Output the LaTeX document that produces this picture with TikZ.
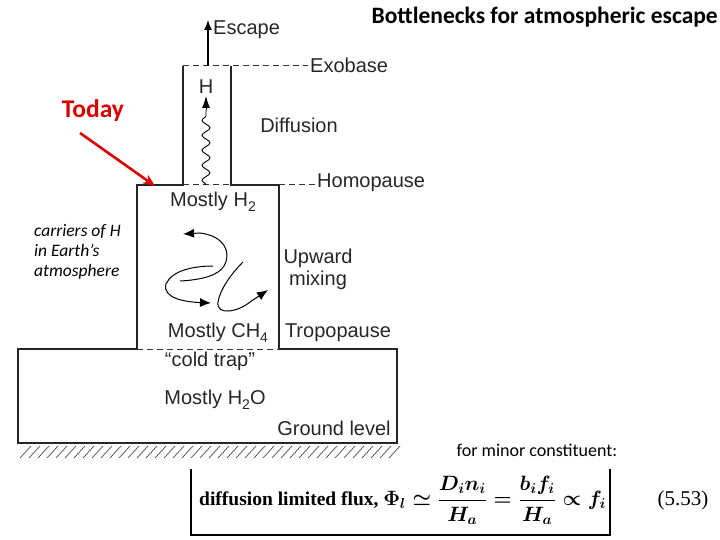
\documentclass[tikz,border=0pt]{standalone}
\usepackage{fontspec}
\setmainfont{Liberation Sans}
\newfontfamily\carlitofont{Carlito}
\newfontfamily\tmsfont{Liberation Serif}
\usetikzlibrary{arrows.meta,decorations.pathmorphing}
\newcommand\mysub[1]{\raisebox{-0.45ex}{\fontsize{14}{14}\selectfont #1}}
\newcommand\myeqtext{\mbox{\mathversion{bold}diffusion limited flux, $\Phi_l \simeq \displaystyle\frac{D_in_i}{H_a}=\frac{b_if_i}{H_a}\propto f_i$}}
\begin{document}
\begin{tikzpicture}[x=1pt,y=-1pt,
  wall/.style={line width=1.3pt,black!85},
  dsh/.style={line width=1pt,black!80,dash pattern=on 6pt off 4pt},
  lbl/.style={font=\fontsize{20}{23}\selectfont,text=black!85,inner sep=0pt},
  swirl/.style={line width=1pt,-{Latex[length=11pt,width=9pt]}},
]
\useasboundingbox (0,0) rectangle (720,540);
% walls
\draw[wall] (183,66) -- (183,185) -- (137,185) -- (137,349) -- (18,349) -- (18,443) -- (397,443) -- (397,349) -- (279,349) -- (279,185) -- (231,185) -- (231,66);
% dashed lines
\draw[dsh] (183,66) -- (308,66);
\draw[dsh] (183,185) -- (231,185);
\draw[dsh] (279,185) -- (315,185);
\draw[dsh] (137,349) -- (279,349);
% hatch
\foreach \x in {20,29,...,390} \draw[line width=0.7pt,black!70] (\x,458) -- (\x+11,446);
% escape arrow
\coordinate (esc0) at (208,66);
\coordinate (esc1) at (208,20);
\draw[line width=1.2pt,-{Latex[length=10pt,width=8pt]}] (esc0) -- (esc1);
\node[lbl,anchor=west] (escape) at (213,30) {Escape};
\node[lbl,anchor=west] (exobase) at (310,65) {Exobase};
\node[lbl] (H) at (206,87) {H};
\coordinate (w0) at (206,185);
\coordinate (w1) at (206,110);
\draw[line width=0.9pt,decorate,decoration={snake,amplitude=4pt,segment length=15pt,post length=0pt}] (w0) -- (w1);
\draw[line width=0.9pt,-{Latex[length=12pt,width=8pt]}] (w1) -- (206,96);
\node[lbl] (diff) at (299,125) {Diffusion};
\node[lbl,anchor=west] (homo) at (317,183) {Homopause};
\node[lbl] (mh2) at (213,202) {Mostly H\mysub{2}};
\node[lbl] (up) at (318,258) {Upward};
\node[lbl] (mix) at (318,280) {mixing};
\node[lbl] (mch4) at (218,333) {Mostly CH\mysub{4}};
\node[lbl] (tropo) at (338,333) {Tropopause};
\node[lbl] (cold) at (210,361) {“cold trap”};
\node[lbl] (mh2o) at (215,400) {Mostly H\mysub{2}O};
\node[lbl] (ground) at (334,428) {Ground level};
% swirls
\draw[swirl] (180,281) .. controls (200,280) and (218,276) .. (224,266) .. controls (232,252) and (224,236) .. (200,233) -- (183,234);
\draw[swirl] (213,266) .. controls (195,266) and (172,270) .. (166,284) .. controls (162,298) and (185,302) .. (211,303);
\draw[swirl] (243,262) .. controls (230,275) and (220,290) .. (218,302) .. controls (216,316) and (238,312) .. (250,302) -- (268,290);
% title & annotations
\node[font=\carlitofont\bfseries\fontsize{23.5}{26}\selectfont,anchor=north east,inner sep=0pt] (title) at (718,7) {Bottlenecks for atmospheric escape};
\node[font=\carlitofont\bfseries\fontsize{25.5}{28}\selectfont,text=red!85!black,inner sep=0pt] (today) at (93,111) {Today};
\coordinate (tarrow) at (155,186);
\draw[line width=2.6pt,red!85!black,-{Stealth[length=12pt,width=10pt]}] (80,133) -- (tarrow);
\node[font=\carlitofont\itshape\fontsize{17.5}{20}\selectfont,anchor=north west,align=left,inner sep=0pt] (carriers) at (34,224) {carriers of H\\in Earth’s\\atmosphere};
\node[font=\carlitofont\fontsize{18}{20}\selectfont,inner sep=0pt] (minor) at (537,450) {for minor constituent:};
% equation
\draw[line width=1.2pt] (191,469) -- (191,535) -- (610,535) -- (610,469);
\node[font=\tmsfont\bfseries\fontsize{19.5}{22}\selectfont,anchor=west,inner sep=0pt] (eqn) at (199,500) {\myeqtext};
\node[font=\tmsfont\fontsize{21}{24}\selectfont,inner sep=0pt] (num) at (683,500) {(5.53)};
\end{tikzpicture}
\end{document}
